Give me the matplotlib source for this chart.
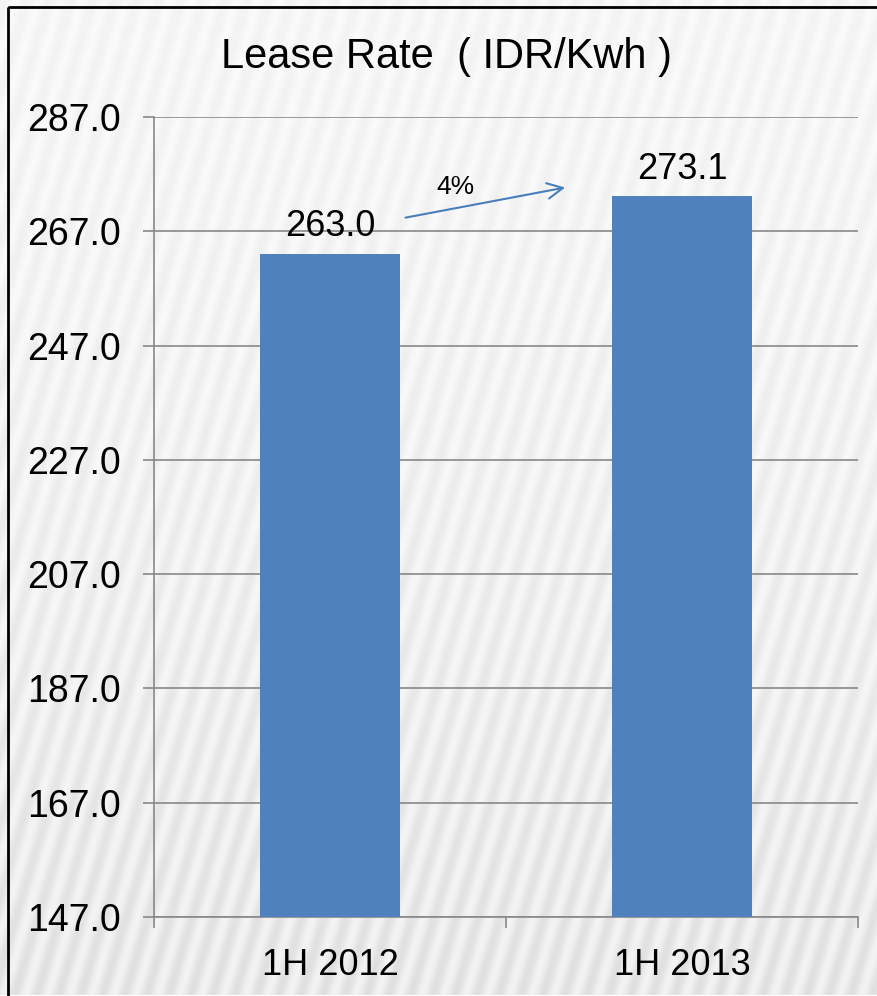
import numpy as np
import matplotlib
matplotlib.use("Agg")
import matplotlib.pyplot as plt
from matplotlib.patches import Rectangle

categories = ["1H 2012", "1H 2013"]
values = [263.0, 273.1]
value_labels = ["263.0", "273.1"]
yticks = [147, 167, 187, 207, 227, 247, 267, 287]
growth_label = "4%"

plt.rcParams['font.family'] = ['Liberation Sans', 'DejaVu Sans']

W, H = 877, 996
fig = plt.figure(figsize=(W / 100, H / 100), dpi=100)

# striped background texture
bg = fig.add_axes([0, 0, 1, 1], zorder=-10)
yy, xx = np.mgrid[0:H, 0:W]
phase = (xx + yy * 0.30) / 22.0 * 2 * np.pi
stripes = 0.5 + 0.5 * np.sin(phase)
fade = np.clip((yy / H) ** 1.5, 0, 1)
shade = 0.98 - stripes * (0.03 + 0.045 * fade) - 0.03 * fade
bg.imshow(shade, cmap="gray", vmin=0, vmax=1, aspect="auto", interpolation="bilinear")
bg.set_axis_off()
bg.add_patch(Rectangle((8, 7), W + 20, H + 20, fill=False, edgecolor="black", linewidth=2))
bg.set_xlim(0, W)
bg.set_ylim(H, 0)

ax = fig.add_axes([154 / W, 1 - 917 / H, (858 - 154) / W, (917 - 117) / H])
ax.patch.set_alpha(0)

x = np.arange(len(categories))
ax.bar(x, values, width=0.4, color="#4F81BD", zorder=3)
ax.set_xlim(-0.5, 1.5)
ax.set_ylim(147, 287)
ax.set_yticks(yticks)
ax.set_yticklabels([f"{v:.1f}" for v in yticks], fontsize=27)
ax.set_xticks([-0.5, 0.5, 1.5], minor=False)
ax.set_xticklabels([])
ax.set_xticks(x, minor=True)
ax.set_xticklabels(categories, minor=True, fontsize=26)
ax.tick_params(axis="x", which="minor", length=0, pad=22)
ax.tick_params(axis="x", which="major", length=8, color="#888888", width=1.2)
ax.tick_params(axis="y", length=8, color="#888888", width=1.2, pad=16)
ax.yaxis.grid(True, color="#888888", linewidth=1.2, zorder=0)
for s in ["top", "right"]:
    ax.spines[s].set_visible(False)
for s in ["left", "bottom"]:
    ax.spines[s].set_color("#888888")
    ax.spines[s].set_linewidth(1.2)

for xi, v, lab in zip(x, values, value_labels):
    ax.text(xi, v + 3.1, lab, ha="center", va="baseline", fontsize=26)

ax.annotate("", xy=(0.676, 274.75), xytext=(0.207, 269.3),
            arrowprops=dict(arrowstyle="->", color="#4A7EBB", lw=1.5, mutation_scale=28))
ax.text(0.355, 274.75, growth_label, ha="center", va="center", fontsize=19)

fig.text(447 / W, 1 - 68 / H, "Lease Rate  ( IDR/Kwh )", ha="center", va="baseline",
         fontsize=30)

fig.savefig("out.png", dpi=100)
